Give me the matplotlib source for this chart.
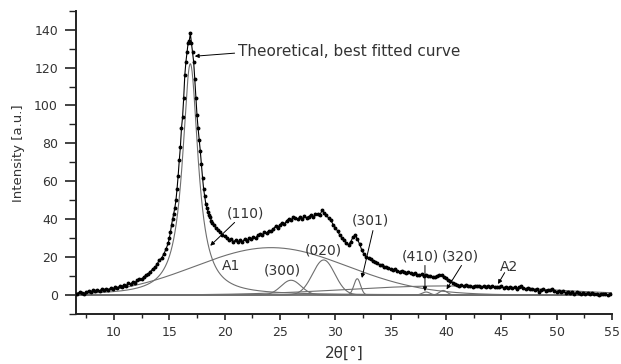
import numpy as np
import matplotlib
matplotlib.use("Agg")
import matplotlib.pyplot as plt
from matplotlib.ticker import MultipleLocator

# ---------------- data ----------------
# experimental points, region 1 (6.7 .. 14.9, step 0.2)
y_exp1 = [0.8, 1.6,
          1.2, 0.4, 1.4, 2.2, 1.6,
          2.4, 2.0, 2.8, 2.2, 3.0,
          2.6, 3.4, 2.9, 3.6, 3.2,
          4.2, 3.8, 4.6, 4.4, 5.4,
          5.0, 6.2, 5.8, 6.8, 6.6,
          7.8, 8.6, 8.2, 9.6, 10.4,
          11.2, 12.4, 13.8, 14.6, 16.2,
          18.6, 19.4, 21.6, 24.2, 27.4]
# region 2 (15.0 .. 18.9, step 0.1)
y_exp2 = [30, 33, 37, 40, 43, 46, 50, 56, 63, 71,
          78, 88, 94, 104, 116, 123, 128, 133, 134, 138,
          133, 128, 123, 114, 104, 95, 88, 82, 76, 69,
          62, 56, 52, 48, 46, 44, 42, 41, 39, 38]
# region 3 (19.0 .. 54.8, step 0.2)
y_exp3 = [37.0, 35.5, 34.5, 33.5, 31.5,
          31.0, 30.0, 29.0, 29.5, 28.2,
          29.0, 27.8, 28.8, 28.2, 29.4,
          28.6, 30.0, 29.4, 30.8, 30.2,
          31.5, 32.4, 31.8, 33.2, 32.8,
          34.0, 33.6, 35.0, 36.2, 35.6,
          37.2, 38.0, 37.4, 39.2, 40.2,
          39.6, 41.2, 40.4, 40.0, 41.0,
          40.2, 41.6, 40.8, 41.4, 42.2,
          41.2, 42.6, 43.0, 42.2, 44.6,
          43.4, 42.0, 40.6, 39.4, 37.2,
          35.6, 33.8, 31.6, 30.2, 28.8,
          27.4, 26.6, 28.2, 30.6, 31.6,
          29.4, 26.8, 23.6, 21.4, 20.2,
          19.6, 18.8, 18.2, 17.4, 16.8,
          16.0, 15.6, 15.0, 14.6, 14.2,
          13.8, 13.2, 13.6, 12.8, 12.4,
          12.8, 12.0, 11.6, 12.2, 11.4,
          11.0, 11.6, 10.8, 10.4, 11.0,
          10.2, 10.6, 9.8, 10.2, 9.6,
          9.4, 10.2, 10.8, 10.4, 9.6,
          8.8, 8.0, 7.4, 6.6, 6.0,
          5.4, 5.0, 5.4, 4.8, 5.2,
          4.6, 5.0, 4.4, 5.0, 4.6,
          4.8, 4.2, 4.8, 4.4, 4.9,
          4.3, 4.6, 4.0, 4.5, 4.1,
          4.6, 3.8, 4.2, 3.6, 4.4,
          3.8, 4.2, 3.4, 4.0, 4.6,
          3.6, 3.2, 3.8, 3.0, 3.4,
          2.6, 3.0, 1.8, 2.6, 3.0,
          2.2, 2.8, 2.4, 3.0, 2.2,
          1.6, 2.2, 1.4, 2.0, 1.2,
          1.8, 1.0, 1.6, 0.8, 1.4,
          1.0, 0.6, 1.2, 0.8, 1.2,
          0.6, 1.0, 0.4, 0.8, 0.2,
          0.7, 0.3, 0.6, 0.0, 0.4]

x_exp = np.concatenate([np.linspace(6.7, 14.9, len(y_exp1)),
                        np.linspace(15.0, 18.9, len(y_exp2)),
                        np.linspace(19.0, 54.8, len(y_exp3))])
y_exp = np.array(y_exp1 + y_exp2 + y_exp3, dtype=float)

# fitted components: name, centre, height, width
lor_names = ["(110)"]
lor_center = [16.9]
lor_height = [122.0]
lor_hwhm = [0.85]

gau_names = ["A1", "(300)", "(020)", "(301)", "(410)", "(320)", "A2"]
gau_center = [24.2, 26.0, 28.95, 31.98, 38.2, 39.75, 40.0]
gau_height = [25.0, 7.8, 18.5, 8.6, 1.6, 2.4, 4.8]
gau_sigma = [6.9, 0.9, 1.0, 0.3, 0.35, 0.35, 9.0]

x_ticks = [10, 15, 20, 25, 30, 35, 40, 45, 50, 55]
y_ticks = [0, 20, 40, 60, 80, 100, 120, 140]

# ---------------- figure ----------------
TXT = "#333333"
fig = plt.figure(figsize=(6.21, 3.64), dpi=100)
ax = fig.add_axes([0.1224, 0.1374, 0.8631, 0.8332])

xx = np.linspace(6.6, 55.0, 2000)
comp_kw = dict(color="#6e6e6e", lw=0.8, zorder=2)
for c, h, g in zip(lor_center, lor_height, lor_hwhm):
    ax.plot(xx, h / (1.0 + ((xx - c) / g) ** 2), **comp_kw)
for c, h, s in zip(gau_center, gau_height, gau_sigma):
    ax.plot(xx, h * np.exp(-0.5 * ((xx - c) / s) ** 2), **comp_kw)

ax.plot(x_exp, y_exp, color="black", lw=0.8, marker="o", ms=1.8,
        mfc="black", mec="black", zorder=3)

ax.set_xlim(6.57, 55.0)
ax.set_ylim(-10, 150)
ax.set_xticks(x_ticks)
ax.set_yticks(y_ticks)
ax.xaxis.set_minor_locator(MultipleLocator(2.5))
ax.yaxis.set_minor_locator(MultipleLocator(10))

for s in ["top", "right"]:
    ax.spines[s].set_visible(False)
for s in ["left", "bottom"]:
    ax.spines[s].set_linewidth(1.4)
    ax.spines[s].set_color("#222222")

ax.tick_params(axis="x", which="major", length=4.5, width=1.2, direction="out",
               labelsize=9, labelcolor=TXT, pad=4, color="#222222")
ax.tick_params(axis="x", which="minor", length=3, width=1.0, direction="out",
               color="#222222")
ax.tick_params(axis="y", which="major", length=8, width=1.2, direction="out",
               labelsize=9, labelcolor=TXT, pad=5, color="#222222")
ax.tick_params(axis="y", which="minor", length=5, width=1.0, direction="out",
               color="#222222")

ax.set_ylabel("Intensity [a.u.]", fontsize=9.5, color=TXT)
ax.yaxis.set_label_coords(-0.095, 0.53)
ax.set_xlabel("2θ[°]", fontsize=11, color=TXT)
ax.xaxis.set_label_coords(0.5, -0.105)

arrow_kw = dict(arrowstyle="-|>", color="black", lw=0.7, mutation_scale=6,
                shrinkA=0, shrinkB=0)
lab_kw = dict(fontsize=10, color=TXT, ha="center", va="center")

# Theoretical curve annotation
ax.text(21.2, 128.6, "Theoretical, best fitted curve", fontsize=11,
        color=TXT, ha="left", va="center")
ax.annotate("", xy=(17.3, 126), xytext=(20.9, 127.6), arrowprops=arrow_kw)

# peak labels
ax.text(21.9, 42.9, "(110)", **lab_kw)
ax.annotate("", xy=(18.7, 26.0), xytext=(20.9, 38.3), arrowprops=arrow_kw)
ax.text(20.6, 15.3, "A1", **lab_kw)
ax.text(25.2, 12.7, "(300)", **lab_kw)
ax.text(28.9, 23.6, "(020)", **lab_kw)
ax.text(33.15, 39.2, "(301)", **lab_kw)
ax.annotate("", xy=(32.4, 9.0), xytext=(33.4, 34.0), arrowprops=arrow_kw)
ax.text(37.7, 20.1, "(410)", **lab_kw)
ax.annotate("", xy=(38.1, 2.0), xytext=(38.1, 15.6), arrowprops=arrow_kw)
ax.text(41.3, 20.1, "(320)", **lab_kw)
ax.annotate("", xy=(40.05, 3.0), xytext=(41.4, 15.6), arrowprops=arrow_kw)
ax.text(45.7, 14.8, "A2", **lab_kw)
ax.annotate("", xy=(44.7, 5.8), xytext=(45.3, 11.8), arrowprops=arrow_kw)

fig.savefig("out.png", dpi=100)
